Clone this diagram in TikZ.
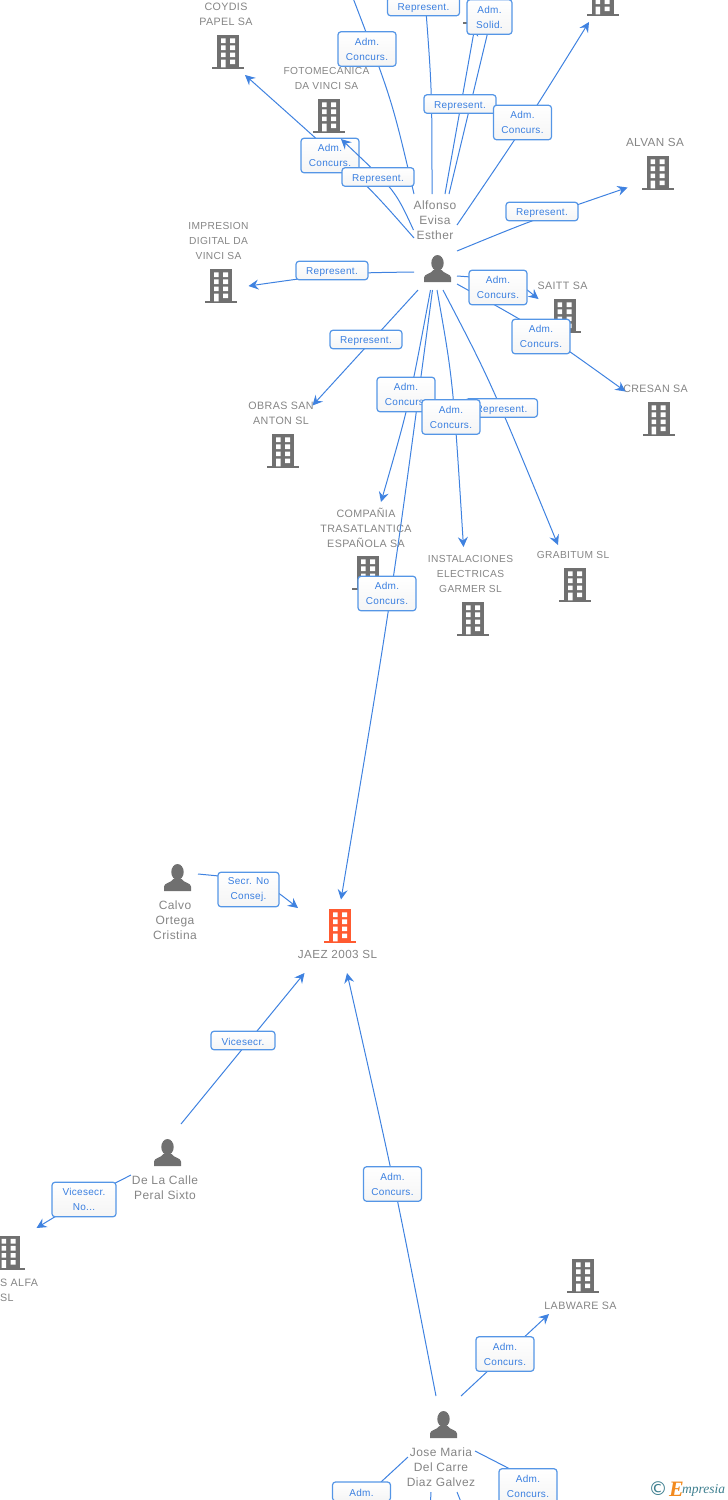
\documentclass[tikz,border=0pt]{standalone}
\usepackage{fontspec}
\setmainfont{Liberation Sans}
\newfontfamily\lblf{Liberation Sans}[LetterSpace=3.5]
\newfontfamily\boxf{Liberation Sans}[LetterSpace=3]
\newfontfamily\logof{Liberation Serif}
\newfontfamily\symf{DejaVu Sans}
\usetikzlibrary{arrows.meta}
\definecolor{linkc}{HTML}{3F82E0}
\definecolor{edgec}{HTML}{5596E6}
\definecolor{boxt}{HTML}{3A7FE0}
\definecolor{icon}{HTML}{707070}
\definecolor{lblc}{HTML}{858585}
\definecolor{hot}{HTML}{FF5A30}
\definecolor{logot}{HTML}{3E7F8F}
\definecolor{logoo}{HTML}{F28A1E}
\tikzset{
  x=1pt,y=-1pt,
  link/.style={draw=linkc,line width=1pt,-{Stealth[length=10pt,width=10pt,inset=3.5pt]}},
  plain/.style={draw=linkc,line width=1pt},
  relbox/.style={draw=edgec,line width=1.2pt,rounded corners=3pt,top color=white,bottom color=white!96!black,
    text=boxt,font=\boxf\fontsize{10}{15}\selectfont,align=center,inner sep=0pt,minimum height=18.5pt,
    execute at begin node={\rule{0pt}{10.5pt}}},
  twoline/.style={relbox,minimum height=34.5pt,execute at begin node={\rule{0pt}{12.5pt}}},
  adm/.style={twoline,minimum width=58pt},
  rep/.style={relbox,minimum width=72pt},
  nm/.style={text=lblc,font=\lblf\fontsize{10.7}{15}\selectfont,align=center,inner sep=0pt,yshift=-1pt},
  nmnarrow/.style={nm,font=\lblf\fontsize{10.2}{15}\selectfont},
  nmwide/.style={nm,font=\lblf\fontsize{11.7}{15}\selectfont},
  pn/.style={text=lblc,font=\lblf\fontsize{12}{15}\selectfont,align=center,inner sep=0pt},
  ghost/.style={inner sep=0pt,minimum width=32pt,minimum height=34pt},
}
\newcommand\bld[4]{% name, centre x, top y, colour
  \node[ghost] (#1) at (#2,#3+17) {};
  \begin{scope}[shift={(#2,#3)}]
    \fill[#4] (-11,0) rectangle (11,32.4);
    \fill[#4] (-16,32.2) rectangle (16,34);
    \fill[white] (-7,3.3) rectangle (-2.3,8) (2,3.3) rectangle (7,8)
      (-7,10.4) rectangle (-2.3,15) (2,10.4) rectangle (7,15)
      (-7,17.5) rectangle (-2.3,22) (2,17.5) rectangle (7,22)
      (-7,24.5) rectangle (-2.3,32.4) (2,24.5) rectangle (7,29);
  \end{scope}}
\newcommand\psn[3]{% name, centre x, top y
  \node[ghost,minimum width=27pt,minimum height=27pt] (#1) at (#2,#3+13.5) {};
  \begin{scope}[shift={(#2,#3)}]
    \fill[icon] (0,8) ellipse [x radius=6.2,y radius=8];
    \fill[icon] (-13.5,27) -- (-13.5,22.5) .. controls (-13.5,19) and (-6,18.5) .. (-4,15) -- (4,15)
      .. controls (6,18.5) and (13.5,19) .. (13.5,22.5) -- (13.5,27) -- cycle;
  \end{scope}}
\begin{document}
\begin{tikzpicture}
\useasboundingbox (0,0) rectangle (728,1500);
\clip (0,0) rectangle (728,1500);
% buildings
\bld{coydis}{228}{35}{icon}
\bld{foto}{329}{99}{icon}
\bld{topr}{602.5}{-18}{icon}
\bld{hidden}{479}{-10}{icon}
\bld{alvan}{657.5}{156}{icon}
\bld{impresion}{221}{269}{icon}
\bld{saitt}{564.5}{299}{icon}
\bld{cresan}{658.5}{402}{icon}
\bld{obras}{283}{434}{icon}
\bld{compania}{368}{556}{icon}
\bld{instal}{473}{602}{icon}
\bld{grabitum}{575}{568}{icon}
\bld{jaez}{340}{909}{hot}
\bld{alfa}{8.5}{1235.5}{icon}
\bld{labware}{583}{1259}{icon}
% people
\psn{alfonso}{437.5}{255}
\psn{calvo}{177.5}{864}
\psn{calle}{167.5}{1139}
\psn{jose}{443.5}{1411}
% names
\node[nm] (tcoydis) at (226,13.5) {COYDIS\\PAPEL SA};
\node[nmnarrow] (tfoto) at (326.5,77.5) {FOTOMECANICA\\DA VINCI SA};
\node[nmwide] (talvan) at (655,141.5) {ALVAN SA};
\node[nmnarrow] (timpresion) at (218.5,240) {IMPRESION\\DIGITAL DA\\VINCI SA};
\node[nm] (tsaitt) at (562.5,285) {SAITT SA};
\node[nm] (tcresan) at (655.5,388) {CRESAN SA};
\node[nm] (tobras) at (281,412.5) {OBRAS SAN\\ANTON  SL};
\node[nm] (tcompania) at (366,527) {COMPAÑIA\\TRASATLANTICA\\ESPAÑOLA SA};
\node[nmnarrow] (tinstal) at (470.5,573) {INSTALACIONES\\ELECTRICAS\\GARMER SL};
\node[nmnarrow] (tgrabitum) at (573,554) {GRABITUM SL};
\node[nmwide] (tjaez) at (337.5,953.5) {JAEZ 2003 SL};
\node[nm,anchor=west,align=left] (talfa) at (0,1289.5) {S ALFA\\SL};
\node[nm] (tlabware) at (580.5,1305) {LABWARE SA};
\node[pn] (talfonso) at (435,220) {Alfonso\\Evisa\\Esther};
\node[pn] (tcalvo) at (175,920) {Calvo\\Ortega\\Cristina};
\node[pn] (tcalle) at (165,1187.5) {De La Calle\\Peral Sixto};
\node[pn] (tjose) at (441,1467) {Jose Maria\\Del Carre\\Diaz Galvez};
% connector ends
\foreach \n/\x/\y in {
  a1/414/194, a1c/392/100, a1e/353/-2,
  a2/432/194, a2c/432/90, a2e/425/-2,
  a3/445/194, a3e/475/26,
  a4/449/194, a4e/496/-2,
  a5/457/225, a5c/525/125, a5e/589/22,
  a6/457/251, a6c/530/221, a6e/627.5/187.5,
  a7/457/276, a7c/515/280, a7e/538.5/299,
  a8/457/284, a8c/540/330, a8e/625.5/391.5,
  a9/414/272, a9c/340/273, a9e/248.5/286,
  a10/418/290, a10e/312.5/405.5,
  a11/430.5/290, a11c/409/405, a11e/381/502,
  a12/432.5/290, a12c/392/595, a12e/341/899.5,
  a13/437/290, a13c/453/380, a13e/463.5/547,
  a14/443/290, a14c/490/380, a14e/558/545,
  a15/414/238, a15c/365/182, a15e/245/75,
  a16/413.5/230, a16c/395/190, a16e/341/139,
  b1/198/874, b1c/262/880, b1e/298/908,
  b2/181/1124, b2e/304.5/973,
  b3/131/1175, b3c/84/1199, b3e/36.5/1228,
  b4/436/1396, b4c/395/1185, b4e/347/973,
  b5/461/1396, b5e/549/1314,
  b6/408/1457, b6e/381/1482,
  b7/475/1451, b7e/512/1470,
  b8/431/1492, b8e/430.5/1502,
  b9/457/1492, b9e/461/1502}
  {\coordinate (\n) at (\x,\y);}
% connectors under the boxes
\draw[plain] (a1) .. controls (a1c) .. (a1e);
\draw[plain] (a2) .. controls (a2c) .. (a2e);
\draw[link] (a3) -- (a3e);
\draw[plain] (a4) -- (a4e);
\draw[link] (a5) .. controls (a5c) .. (a5e);
\draw[link] (a6) .. controls (a6c) .. (a6e);
\draw[link] (a7) .. controls (a7c) .. (a7e);
\draw[link] (a8) .. controls (a8c) .. (a8e);
\draw[link] (a9) .. controls (a9c) .. (a9e);
\draw[link] (a10) -- (a10e);
\draw[link] (a11) .. controls (a11c) .. (a11e);
\draw[link] (a12) .. controls (a12c) .. (a12e);
\draw[link] (a13) .. controls (a13c) .. (a13e);
\draw[link] (a14) .. controls (a14c) .. (a14e);
\draw[link] (a15) .. controls (a15c) .. (a15e);
\draw[link] (b1) .. controls (b1c) .. (b1e);
\draw[link] (b2) -- (b2e);
\draw[link] (b3) .. controls (b3c) .. (b3e);
\draw[link] (b4) .. controls (b4c) .. (b4e);
\draw[link] (b5) -- (b5e);
\draw[plain] (b6) -- (b6e);
\draw[plain] (b7) -- (b7e);
\draw[plain] (b8) -- (b8e);
\draw[plain] (b9) -- (b9e);
% boxes
\node[adm] (r1) at (367,49) {Adm.\\Concurs.};
\node[rep] (r2) at (423.5,6.5) {Represent.};
\node[twoline,minimum width=45pt] (r3) at (489.5,17) {Adm.\\Solid.};
\node[rep] (r4) at (460,104) {Represent.};
\node[adm] (r5) at (522.5,122.5) {Adm.\\Concurs.};
\node[adm] (r6) at (330,155.5) {Adm.\\Concurs.};
\draw[link] (a16) .. controls (a16c) .. (a16e);
\node[rep] (r7) at (378,177) {Represent.};
\node[rep] (r8) at (542,211.5) {Represent.};
\node[rep] (r9) at (332,270.5) {Represent.};
\node[adm] (r10) at (498,287.5) {Adm.\\Concurs.};
\node[adm] (r11) at (541,336.5) {Adm.\\Concurs.};
\node[rep] (r12) at (366,339.5) {Represent.};
\node[adm] (r13) at (406,394.5) {Adm.\\Concurs.};
\node[rep] (r14) at (501.5,408) {Represent.};
\node[adm] (r15) at (451,417) {Adm.\\Concurs.};
\node[adm] (r16) at (387,593.5) {Adm.\\Concurs.};
\node[twoline,minimum width=61pt] (r17) at (248.5,889.5) {Secr.  No\\Consej.};
\node[relbox,minimum width=64pt] (r18) at (243,1040.5) {Vicesecr.};
\node[twoline,minimum width=64pt] (r19) at (84,1199.5) {Vicesecr.\\No...};
\node[adm] (r20) at (392.5,1184) {Adm.\\Concurs.};
\node[adm] (r21) at (505,1354) {Adm.\\Concurs.};
\node[relbox,minimum width=58pt,minimum height=19pt] (r22) at (361.5,1491.5) {Adm.};
\node[adm] (r23) at (528,1486) {Adm.\\Concurs.};
% logo
\node[text=logot,font=\symf\fontsize{19}{19}\selectfont,inner sep=0pt] (logoc) at (658,1489) {©};
\node[text=logoo,font=\logof\itshape\bfseries\fontsize{22}{22}\selectfont,inner sep=0pt,anchor=base west] (logoe) at (669,1496) {E};
\node[text=logot,font=\logof\itshape\fontsize{13.5}{14}\selectfont,inner sep=0pt,anchor=base west] (logom) at (682,1493) {mpresia};
\end{tikzpicture}
\end{document}
